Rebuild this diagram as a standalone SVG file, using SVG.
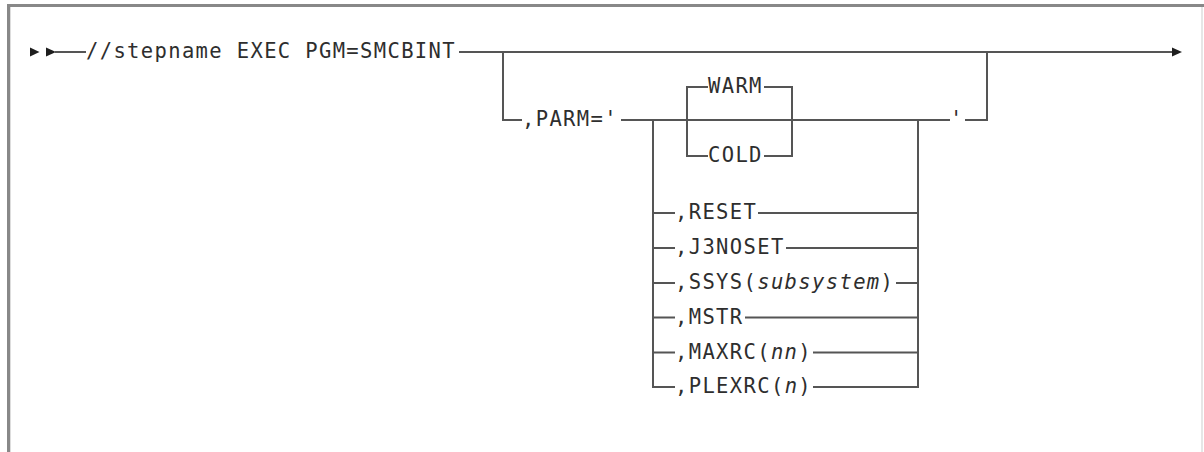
<svg xmlns="http://www.w3.org/2000/svg" width="1204" height="452" viewBox="0 0 1204 452">
<style>
.t{font-family:"DejaVu Sans Mono","Liberation Mono",monospace;font-size:20.5px;letter-spacing:1.36px;fill:#2e2e2e}
.i{font-style:italic}
.c{fill:none;stroke:#555;stroke-width:2;stroke-linejoin:miter}
.a{fill:#1e1e1e}
</style>
<rect x="7" y="4" width="1197" height="3" fill="#888"/>
<rect x="7" y="4" width="3" height="448" fill="#888"/>
<rect x="10" y="7" width="1" height="445" fill="#ddd"/>
<rect x="1201" y="7" width="2" height="445" fill="#e6e6e6"/>
<g id="connectors">
<polygon class="a" points="30,47.5 39.5,52 30,56.5"/>
<polygon class="a" points="46,47.5 56,52 46,56.5"/>
<path class="c" d="M55 52 H86"/>
<path class="c" d="M459 52 H1173"/>
<polygon class="a" points="1172,47.5 1182,52 1172,56.5"/>
<path class="c" d="M503 52 V120 H522"/>
<path class="c" d="M621 120 H950"/>
<path class="c" d="M965 120 H987 V52"/>
<path class="c" d="M708 87 H687 V156 H708"/>
<path class="c" d="M764 87 H792 V156 H764"/>
<path class="c" d="M653 120 V387 H675"/>
<path class="c" d="M653 213 H675 M653 248 H675 M653 283 H675 M653 317.5 H675 M653 352.5 H675"/>
<path class="c" d="M918 120 V387 H813"/>
<path class="c" d="M758 213 H918 M786 248 H918 M896 283 H918 M745 317.5 H918 M813 352.5 H918"/>
</g>
<g id="node-main"><text class="t" x="86" y="58">//stepname EXEC PGM=SMCBINT</text></g>
<g id="node-parm"><text class="t" x="522" y="126">,PARM='</text></g>
<g id="node-warm"><text class="t" x="708" y="93">WARM</text></g>
<g id="node-cold"><text class="t" x="708" y="162">COLD</text></g>
<g id="node-quote"><text class="t" x="950" y="126">'</text></g>
<g id="node-reset"><text class="t" x="675" y="219">,RESET</text></g>
<g id="node-j3noset"><text class="t" x="675" y="254">,J3NOSET</text></g>
<g id="node-ssys"><text class="t" x="675" y="289">,SSYS(<tspan class="i">subsystem</tspan>)</text></g>
<g id="node-mstr"><text class="t" x="675" y="323.5">,MSTR</text></g>
<g id="node-maxrc"><text class="t" x="675" y="358.5">,MAXRC(<tspan class="i">nn</tspan>)</text></g>
<g id="node-plexrc"><text class="t" x="675" y="393">,PLEXRC(<tspan class="i">n</tspan>)</text></g>
</svg>
